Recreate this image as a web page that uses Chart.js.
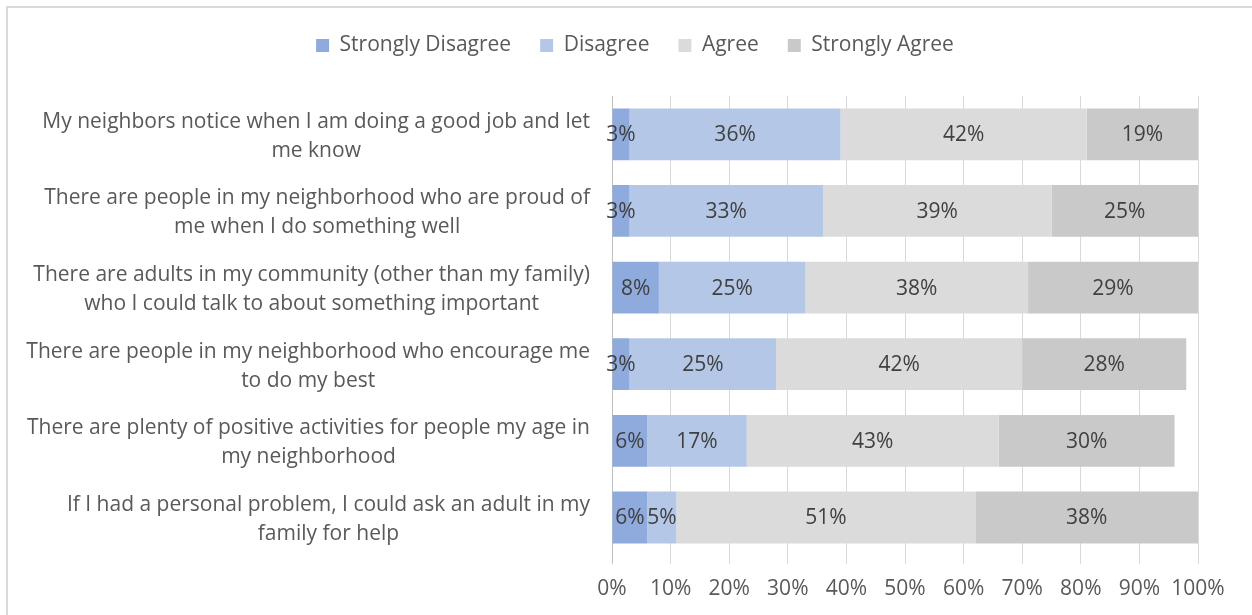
<!DOCTYPE html>
<html>
<head>
<meta charset="utf-8">
<script src="https://cdn.jsdelivr.net/npm/chart.js@4/dist/chart.umd.min.js"></script>
<style>
  body { margin: 0; background: #fff; overflow: hidden; }
  #frame { position: absolute; left: 6px; top: 6px; width: 1400px; height: 800px; border: 2px solid #d9d9d9; }
  #surveyChart { position: absolute; left: 0; top: 0; }
</style>
</head>
<body>
<div id="frame"></div>
<canvas id="surveyChart" width="1252" height="615"></canvas>
<script>
var statements = [
  ["My neighbors notice when I am doing a good job and let", "me know"],
  ["There are people in my neighborhood who are proud of", "me when I do something well"],
  ["There are adults in my community (other than my family)", "who I could talk to about something important"],
  ["There are people in my neighborhood who encourage me", "to do my best"],
  ["There are plenty of positive activities for people my age in", "my neighborhood"],
  ["If I had a personal problem, I could ask an adult in my", "family for help"]
];

var stronglyDisagree = [3, 3, 8, 3, 6, 6];
var disagree = [36, 33, 25, 25, 17, 5];
var agree = [42, 39, 38, 42, 43, 51];
var stronglyAgree = [19, 25, 29, 28, 30, 38];

var xTicks = [0, 10, 20, 30, 40, 50, 60, 70, 80, 90, 100];

var FONT = "'Open Sans', 'Liberation Sans', sans-serif";
var FONT_SIZE = 21;
var textGray = "#595959";

// writes the percentage in the middle of every segment
var segmentLabels = {
  id: "segmentLabels",
  afterDatasetsDraw(chart) {
    var ctx = chart.ctx;
    ctx.save();
    ctx.font = FONT_SIZE + "px " + FONT;
    ctx.fillStyle = "#404040";
    ctx.textAlign = "center";
    ctx.textBaseline = "middle";
    chart.data.datasets.forEach((ds, i) => {
      chart.getDatasetMeta(i).data.forEach((bar, j) => {
        if (!ds.data[j]) return;
        ctx.fillText(ds.data[j] + "%", (bar.x + bar.base) / 2, bar.y + 1);
      });
    });
    ctx.restore();
  }
};

// statement text left of the bars, each block centred on its longest line
var statementLabels = {
  id: "statementLabels",
  afterDraw(chart) {
    var ctx = chart.ctx;
    var yScale = chart.scales.y;
    var right = chart.chartArea.left - 22;
    var lineH = 29;
    ctx.save();
    ctx.font = FONT_SIZE + "px " + FONT;
    ctx.fillStyle = textGray;
    ctx.textAlign = "center";
    ctx.textBaseline = "middle";
    statements.forEach((lines, i) => {
      var widest = Math.max(...lines.map(l => ctx.measureText(l).width));
      var cx = right - widest / 2;
      var cy = yScale.getPixelForValue(i) + 2;
      lines.forEach((l, k) => {
        ctx.fillText(l, cx, cy + (k - (lines.length - 1) / 2) * lineH);
      });
    });
    ctx.restore();
  }
};

// extra room between the legend and the bars
var legendGap = {
  id: "legendGap",
  beforeInit(chart) {
    var fit = chart.legend.fit;
    chart.legend.fit = function () {
      fit.bind(chart.legend)();
      this.height += 30;
    };
  }
};

new Chart("surveyChart", {
  type: "bar",
  data: {
    labels: statements.map(s => s.join(" ")),
    datasets: [
      { label: "Strongly Disagree", data: stronglyDisagree, backgroundColor: "#8faadc" },
      { label: "Disagree", data: disagree, backgroundColor: "#b4c7e7" },
      { label: "Agree", data: agree, backgroundColor: "#dbdbdb" },
      { label: "Strongly Agree", data: stronglyAgree, backgroundColor: "#c9c9c9" }
    ]
  },
  options: {
    responsive: false,
    animation: false,
    indexAxis: "y",
    layout: { padding: { left: 18, right: 0, top: 6, bottom: 0 } },
    datasets: { bar: { categoryPercentage: 1, barPercentage: 0.676 } },
    scales: {
      x: {
        stacked: true,
        min: 0,
        max: 100,
        afterBuildTicks: axis => { axis.ticks = xTicks.map(v => ({ value: v })); },
        ticks: {
          callback: v => v + "%",
          color: textGray,
          font: { family: FONT, size: FONT_SIZE },
          padding: 13,
          maxRotation: 0
        },
        grid: {
          color: c => c.index === 0 ? "#bfbfbf" : "#d9d9d9",
          lineWidth: 1,
          tickLength: 8
        },
        border: { display: false }
      },
      y: {
        stacked: true,
        ticks: { display: false },
        grid: { display: false },
        border: { display: false },
        // room on the left for the statement text
        afterFit: axis => { axis.width = 594; }
      },
      // empty strip on the right so the last tick label fits
      yRight: {
        position: "right",
        ticks: { display: false },
        grid: { display: false },
        border: { display: false },
        afterFit: axis => { axis.width = 54; }
      }
    },
    plugins: {
      legend: {
        position: "top",
        labels: {
          boxWidth: 13,
          boxHeight: 13,
          padding: 29,
          color: textGray,
          font: { family: FONT, size: FONT_SIZE }
        }
      },
      tooltip: { enabled: false }
    }
  },
  plugins: [segmentLabels, statementLabels, legendGap]
});
</script>
</body>
</html>
